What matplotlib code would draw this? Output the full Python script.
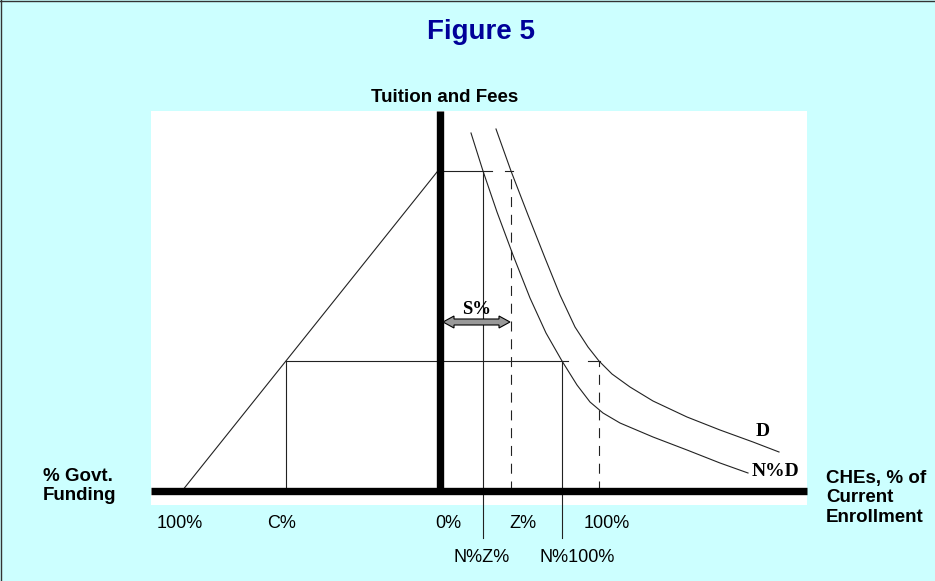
import matplotlib.pyplot as plt
from matplotlib.patches import Rectangle, Polygon

# Diagram units: 1 unit ~ 1 px, origin where the two thick axes cross.
# Demand curve D and the shifted curve N%D
d_x = [56, 71, 88, 105, 120, 135, 148, 159, 172, 190, 213, 247, 280, 313, 339]
d_y = [362, 320, 276, 233, 196, 164, 144, 130, 117, 104, 90, 74, 61, 49, 39]
nd_x = [31, 43, 57, 73, 90, 106, 122, 137, 150, 163, 180, 213, 247, 280, 308]
nd_y = [358, 320, 279, 236, 193, 158, 130, 106, 89, 78, 68, 54, 41, 28, 18]

# funding line on the left
funding_x = [-258, -3]
funding_y = [0, 319]

# key levels
price_high = 320
price_low = 130
c_pct = -154
nz_pct = 43
z_pct = 71
n100_pct = 122
full_pct = 159

# tick labels under the axis
bottom_labels = ['100%', 'C%', '0%', 'Z%', '100%']
bottom_label_x = [-260, -158, 8, 83, 167]
lower_labels = ['N%Z%', 'N%100%']
lower_label_x = [42, 137]

sans = 'Liberation Sans'
serif = 'Liberation Serif'
ink = '#222222'
thin = 0.8
dash = (0, (9, 7))

fig = plt.figure(figsize=(9.35, 5.81), dpi=100, facecolor='#CCFFFF')
ax = fig.add_axes([0, 0, 1, 1])
ax.set_xlim(-440, 495)
ax.set_ylim(-90, 491)
ax.axis('off')

# white drawing panel
ax.add_patch(Rectangle((-289, -14), 656, 394, fc='white', ec='none', zorder=0))

# thick axes
ax.plot([-289, 367], [0, 0], color='black', lw=5.3, solid_capstyle='butt', zorder=3)
ax.plot([0, 0], [0, 380], color='black', lw=5.3, solid_capstyle='butt', zorder=3)

# funding line and curves
ax.plot(funding_x, funding_y, color=ink, lw=thin)
ax.plot(d_x, d_y, color=ink, lw=thin, solid_joinstyle='round')
ax.plot(nd_x, nd_y, color=ink, lw=thin, solid_joinstyle='round')

# upper price level
ax.plot([0, nz_pct + 9], [price_high, price_high], color=ink, lw=thin)
ax.plot([z_pct - 6, z_pct + 2], [price_high, price_high], color=ink, lw=thin)
ax.plot([nz_pct, nz_pct], [-47, price_high], color=ink, lw=thin, clip_on=False)
ax.plot([z_pct, z_pct], [0, price_high], color=ink, lw=thin, linestyle=dash)

# lower price level
ax.plot([c_pct, n100_pct + 6], [price_low, price_low], color=ink, lw=thin)
ax.plot([full_pct - 11, full_pct + 1], [price_low, price_low], color=ink, lw=thin)
ax.plot([c_pct, c_pct], [0, price_low], color=ink, lw=thin)
ax.plot([n100_pct, n100_pct], [-47, price_low], color=ink, lw=thin, clip_on=False)
ax.plot([full_pct, full_pct], [0, price_low], color=ink, lw=thin, linestyle=dash)

# S% double arrow
x0, x1, ya = 3, z_pct - 1, 169
h, H, L = 3, 6, 11
arrow = [(x0, ya), (x0 + L, ya + H), (x0 + L, ya + h), (x1 - L, ya + h),
         (x1 - L, ya + H), (x1, ya), (x1 - L, ya - H), (x1 - L, ya - h),
         (x0 + L, ya - h), (x0 + L, ya - H)]
ax.add_patch(Polygon(arrow, closed=True, fc='#999999', ec='black', lw=0.8, zorder=4))
ax.text(37, 181, 'S%', family=serif, weight='bold', fontsize=13.5,
        ha='center', va='center')

# curve labels
ax.text(323, 59, 'D', family=serif, weight='bold', fontsize=14, ha='center', va='center')
ax.text(336, 19, 'N%D', family=serif, weight='bold', fontsize=14, ha='center', va='center')

# titles and axis labels
ax.text(41, 459, 'Figure 5', family=sans, weight='bold', fontsize=20,
        color='#000099', ha='center', va='center')
ax.text(5, 394, 'Tuition and Fees', family=sans, weight='bold', fontsize=13.5,
        ha='center', va='center')
ax.text(-397, 5, '% Govt.\nFunding', family=sans, weight='bold', fontsize=13.5,
        ha='left', va='center', linespacing=1.15)
ax.text(386, -7, 'CHEs, % of\nCurrent\nEnrollment', family=sans, weight='bold',
        fontsize=13.5, ha='left', va='center', linespacing=1.2)

for lab, x in zip(bottom_labels, bottom_label_x):
    ax.text(x, -32, lab, family=sans, fontsize=13, ha='center', va='center')
for lab, x in zip(lower_labels, lower_label_x):
    ax.text(x, -66, lab, family=sans, fontsize=13, ha='center', va='center')

# slide border (top and left)
ax.plot([-439.5, -439.5], [-90, 491], color='#333333', lw=1, clip_on=False)
ax.plot([-440, 495], [490.5, 490.5], color='#333333', lw=1, clip_on=False)

fig.savefig('out.png', dpi=100, facecolor=fig.get_facecolor())
